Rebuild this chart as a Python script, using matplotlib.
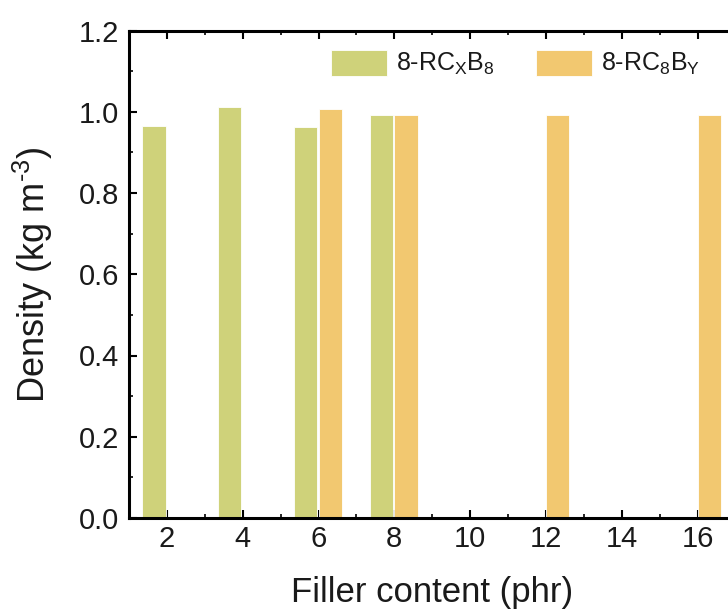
import matplotlib.pyplot as plt
import numpy as np

plt.rcParams['font.family'] = ['Liberation Sans', 'DejaVu Sans']
plt.rcParams['mathtext.fontset'] = 'custom'
plt.rcParams['mathtext.rm'] = 'Liberation Sans'
plt.rcParams['mathtext.it'] = 'Liberation Sans'

# data
filler_x = [2, 4, 6, 8]
density_x = [0.966, 1.012, 0.962, 0.993]
filler_y = [6, 8, 12, 16]
density_y = [1.006, 0.993, 0.991, 0.993]
labels = ["8-RC$_\\mathregular{X}$B$_\\mathregular{8}$",
          "8-RC$_\\mathregular{8}$B$_\\mathregular{Y}$"]

green = "#CFD27A"
orange = "#F2C870"
txt = "#1a1a1a"

fig = plt.figure(figsize=(7.28, 6.09), dpi=100)
fig.set_facecolor("white")
# axes runs past the right edge, like the cropped original
ax = fig.add_axes([129/728, 1 - 518/609, (735.5 - 129)/728, (518 - 30.5)/609])

w = 0.62
ax.bar(np.array(filler_x) - 0.655, density_x, width=w, align='edge',
       color=green, edgecolor='white', linewidth=0.6, label=labels[0], zorder=2)
ax.bar(np.array(filler_y), density_y, width=w, align='edge',
       color=orange, edgecolor='white', linewidth=0.6, label=labels[1], zorder=2)

ax.set_xlim(1, 17)
ax.set_ylim(0, 1.2)
ax.set_xticks([2, 4, 6, 8, 10, 12, 14, 16])
ax.set_xticks(np.arange(1, 17, 1), minor=True)
ax.set_yticks(np.arange(0, 1.21, 0.2))
ax.set_yticks(np.arange(0, 1.21, 0.1), minor=True)
ax.set_yticklabels([f"{v:.1f}" for v in np.arange(0, 1.21, 0.2)])

for s in ax.spines.values():
    s.set_linewidth(2.2)
ax.tick_params(which='major', direction='in', length=6, width=1.5,
               top=True, right=True, labelsize=21, colors='black', labelcolor=txt)
ax.tick_params(which='minor', direction='in', length=3, width=1.2,
               top=True, right=True)
ax.tick_params(axis='y', pad=7)
ax.tick_params(axis='x', pad=5)

ax.set_xlabel("Filler content (phr)", fontsize=25, color=txt)
ax.set_ylabel("Density (kg m$^{\\text{-}3}$)", fontsize=26, color=txt)
ax.xaxis.set_label_coords(0.5, -0.119)
ax.yaxis.set_label_coords(-0.122, 0.5)

ax.legend(loc='upper left', bbox_to_anchor=(331/728, 1 - 50/609),
          bbox_transform=fig.transFigure, ncol=2, frameon=False,
          fontsize=18, handlelength=2.24, handleheight=1.2, borderpad=0,
          borderaxespad=0, handletextpad=0.36, columnspacing=1.64, labelcolor=txt)

plt.savefig("out.png", dpi=100)
